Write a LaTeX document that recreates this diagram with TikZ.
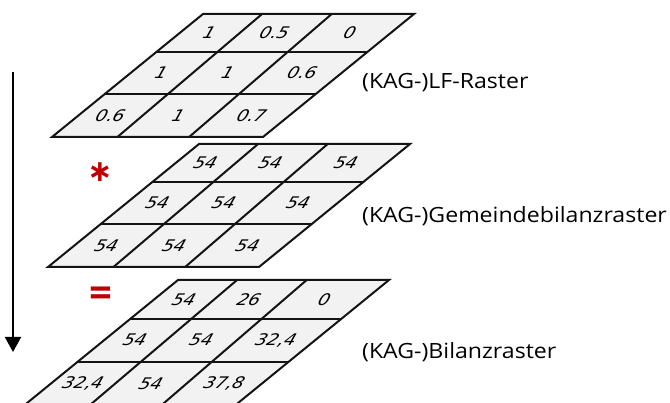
\documentclass[tikz,border=0pt]{standalone}
\usepackage{fontspec}
\usepackage{graphicx}
\setmainfont{Open Sans}
\newfontfamily\cellfont{DejaVu Sans}
\newfontfamily\labelfont{Open Sans}
\newfontfamily\signfont{Carlito}
\newfontfamily\astfont{DejaVu Sans}
\usetikzlibrary{arrows.meta}
\definecolor{cellgray}{HTML}{F2F2F2}
\definecolor{opred}{HTML}{C00000}
\definecolor{gridink}{HTML}{141414}
\tikzset{
  gridline/.style={line width=2pt, draw=gridink},
  celltext/.style={font=\cellfont\itshape\fontsize{16}{16}\selectfont, inner sep=0pt, xscale=1.12, xslant=0.3},
  rasterlabel/.style={font=\labelfont\fontsize{21}{24}\selectfont, anchor=west, inner sep=0pt},
  opsign/.style={text=opred, inner sep=0pt},
  flowarrow/.style={line width=2pt, draw=black, -{Triangle[width=16pt,length=15pt]}},
}
\newcommand\rasterframe{%
  \fill[cellgray] (0,0) -- (1,0) -- (1,1) -- (0,1) -- cycle;
  \draw[gridline] (0,0.31) -- (1,0.31) (0,0.65) -- (1,0.65);
  \draw[gridline] (0.28,0) -- (0.31,1) (0.61,0) -- (0.65,1);
  \draw[gridline] (0,0) -- (1,0) -- (1,1) -- (0,1) -- cycle;
}
\newcommand\rastercells[5]{%
  \ifcase#2\or\def\rv{0.155}\or\def\rv{0.48}\or\def\rv{0.825}\fi
  \pgfmathsetmacro\ca{0.28+0.03*\rv}%
  \pgfmathsetmacro\cb{0.61+0.04*\rv}%
  \node[celltext] (#1r#2a) at ({\ca/2},\rv) {#3};
  \node[celltext] (#1r#2b) at ({(\ca+\cb)/2},\rv) {#4};
  \node[celltext] (#1r#2c) at ({(\cb+1)/2},\rv) {#5};
}
\begin{document}
\begin{tikzpicture}[x=1pt,y=-1pt]
\useasboundingbox (0,0) rectangle (670,403);
\begin{scope}
\clip (0,0) rectangle (670,403);
% grid 1
\begin{scope}[shift={(203pt,-14pt)}, x={(211pt,0pt)}, y={(-151pt,-123pt)}]
  \rasterframe
  \rastercells{g1}{1}{1}{0.5}{0}
  \rastercells{g1}{2}{1}{1}{0.6}
  \rastercells{g1}{3}{0.6}{1}{0.7}
\end{scope}
% grid 2
\begin{scope}[shift={(199pt,-144pt)}, x={(211pt,0pt)}, y={(-151pt,-123pt)}]
  \rasterframe
  \rastercells{g2}{1}{54}{54}{54}
  \rastercells{g2}{2}{54}{54}{54}
  \rastercells{g2}{3}{54}{54}{54}
\end{scope}
% grid 3 (its lower edge runs off the page)
\begin{scope}[shift={(178pt,-280pt)}, x={(211pt,0pt)}, y={(-154pt,-125.5pt)}]
  \rasterframe
  \rastercells{g3}{1}{54}{26}{0}
  \rastercells{g3}{2}{54}{54}{32,4}
  \rastercells{g3}{3}{32,4}{54}{37,8}
\end{scope}
\end{scope}
% labels
\node[rasterlabel] (lab1) at (362,82.5) {\scalebox{1.1}[1]{(KAG-)LF-Raster}};
\node[rasterlabel] (lab2) at (362,216) {\scalebox{1.1}[1]{(KAG-)Gemeindebilanzraster}};
\node[rasterlabel] (lab3) at (362,352.5) {\scalebox{1.1}[1]{(KAG-)Bilanzraster}};
% operators
\node[opsign, font=\astfont\bfseries\fontsize{30}{30}\selectfont] (mul) at (100,172) {∗};
\node[opsign, font=\signfont\bfseries\fontsize{46}{46}\selectfont] (eq) at (101,297) {=};
% arrow
\coordinate (arrtop) at (13,72);
\coordinate (arrtip) at (13,352);
\draw[flowarrow] (arrtop) -- (arrtip);
\end{tikzpicture}
\end{document}
